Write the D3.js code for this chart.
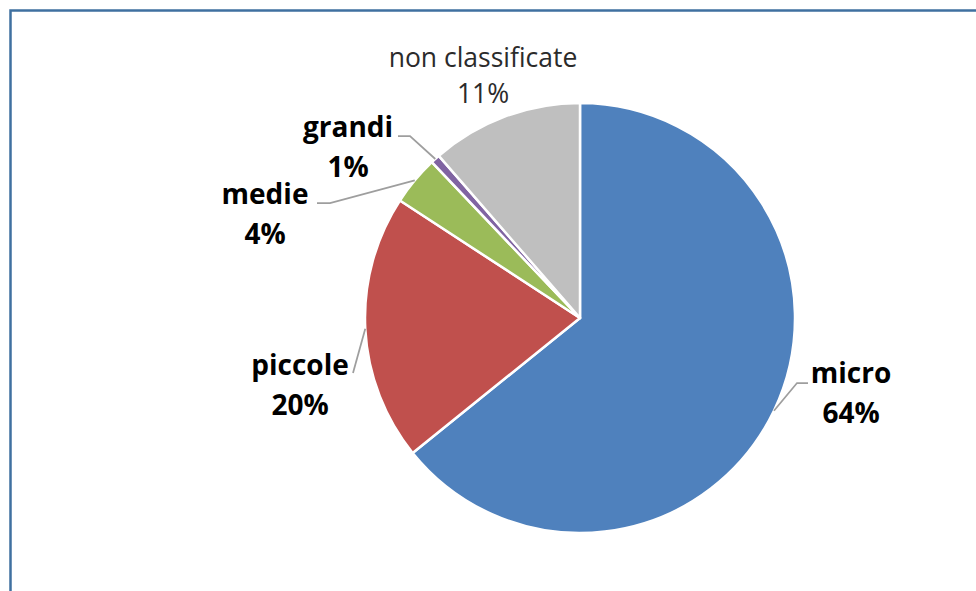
<!DOCTYPE html>
<html>
<head>
<meta charset="utf-8">
<script src="https://cdn.jsdelivr.net/npm/d3@7"></script>
<style>
  html, body { margin: 0; padding: 0; background: #fff; }
  svg { display: block; }
</style>
</head>
<body>
<svg id="chart" width="976" height="591"></svg>
<script>
// data (share of firms by size)
var categories = ['micro', 'piccole', 'medie', 'grandi', 'non classificate'];
var values = [64.2, 20.0, 3.7, 0.7, 11.4];
var colors = ['#4F81BD', '#C0504D', '#9BBB59', '#8064A2', '#BFBFBF'];

// layout: label baseline (first line) and leader elbow for each slice
var labelLayout = {
    'micro':            { x: 851, y: 383, elbow: [[797, 383], [808, 383]], bold: true },
    'piccole':          { x: 300, y: 375, elbow: [[353, 373]], bold: true },
    'medie':            { x: 265, y: 204, elbow: [[330, 203], [317, 203]], bold: true },
    'grandi':           { x: 348, y: 137, elbow: [[410, 136], [398, 136]], bold: true },
    'non classificate': { x: 483, y: 67,  elbow: null, bold: false }
};

var svg = d3.select('#chart');
var cx = 580, cy = 318, radius = 215;

// chart frame (only top/left edges visible)
svg.append('rect')
    .attr('x', 10.5)
    .attr('y', 10.5)
    .attr('width', 1200)
    .attr('height', 1200)
    .attr('fill', 'none')
    .attr('stroke', '#3F70A0')
    .attr('stroke-width', 2.5);

var pie = d3.pie()
    .value(function (d, i) { return values[i]; })
    .sort(null);

var arc = d3.arc()
    .innerRadius(0)
    .outerRadius(radius);

var arcs = pie(categories);

var g = svg.append('g')
    .attr('transform', 'translate(' + cx + ',' + cy + ')');

g.selectAll('path')
    .data(arcs)
    .enter()
    .append('path')
    .attr('d', arc)
    .attr('fill', function (d, i) { return colors[i]; })
    .attr('stroke', '#fff')
    .attr('stroke-width', 2.5)
    .attr('stroke-linejoin', 'round');

// leader lines from slice edge midpoint to label
arcs.forEach(function (d) {
    var lay = labelLayout[d.data];
    if (!lay.elbow) return;
    var mid = (d.startAngle + d.endAngle) / 2;
    var start = [cx + radius * Math.sin(mid), cy - radius * Math.cos(mid)];
    var pts = [start].concat(lay.elbow);
    svg.append('path')
        .attr('d', d3.line()(pts))
        .attr('fill', 'none')
        .attr('stroke', '#9E9E9E')
        .attr('stroke-width', 1.75);
});

// labels
arcs.forEach(function (d, i) {
    var lay = labelLayout[d.data];
    var pct = Math.round(values[i]) + '%';
    var t = svg.append('text')
        .attr('text-anchor', 'middle')
        .attr('font-family', '"Open Sans", sans-serif')
        .attr('font-size', lay.bold ? 28 : 26.5)
        .attr('font-weight', lay.bold ? 'bold' : 'normal')
        .attr('fill', lay.bold ? '#000' : '#2b2b2b');
    t.append('tspan')
        .attr('x', lay.x)
        .attr('y', lay.y)
        .text(d.data);
    t.append('tspan')
        .attr('x', lay.x)
        .attr('y', lay.y + (lay.bold ? 40 : 36))
        .text(pct);
});
</script>
</body>
</html>
